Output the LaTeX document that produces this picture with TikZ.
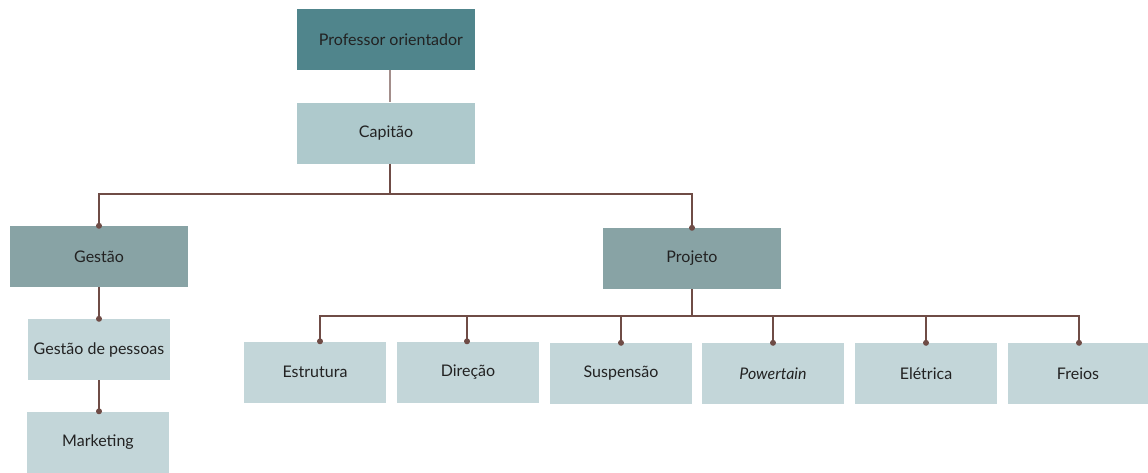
\documentclass[tikz,border=0pt]{standalone}
\usepackage{fontspec}
\setmainfont{Lato}
\usetikzlibrary{positioning}
\definecolor{cdark}{HTML}{50858C}
\definecolor{cmid}{HTML}{88A3A5}
\definecolor{clight}{HTML}{AEC9CC}
\definecolor{cpale}{HTML}{C3D6D9}
\definecolor{cline}{HTML}{6F4C46}
\definecolor{clinelt}{HTML}{A38E8B}
\definecolor{ctext}{HTML}{222222}
\begin{document}
\begin{tikzpicture}[x=1pt,y=-1pt,
  box/.style={rectangle, inner sep=0pt, text=ctext, font=\fontsize{16}{19}\selectfont},
  bigbox/.style={box, minimum width=178pt, minimum height=61pt},
  smallbox/.style={box, minimum width=142pt, minimum height=61pt, fill=cpale},
  conn/.style={draw=cline, line width=1.3pt},
  dotend/.style={fill=cline, circle, inner sep=0pt, minimum size=6pt}
]
\useasboundingbox (0,0) rectangle (1148,472);
\node[bigbox, fill=cdark] (prof) at (386,39.5) {\hspace*{10pt}Professor orientador};
\node[bigbox, fill=clight] (cap) at (386,133) {Capitão};
\node[bigbox, fill=cmid] (ges) at (99,256.5) {Gestão};
\node[bigbox, fill=cmid] (proj) at (692,258.5) {Projeto};
\node[smallbox] (gp) at (99,349.5) {Gestão de pessoas};
\node[smallbox] (mkt) at (98,442) {Marketing};
\node[smallbox] (est) at (315,372) {Estrutura};
\node[smallbox] (dir) at (468,372) {Direção};
\node[smallbox] (sus) at (621,373.5) {Suspensão};
\node[smallbox] (pow) at (773,373.5) {\itshape Powertain};
\node[smallbox] (ele) at (926,373.5) {Elétrica};
\node[smallbox, minimum width=140pt] (fre) at (1078,373.5) {Freios};

\draw[draw=clinelt, line width=1.3pt] ([xshift=4pt]prof.south) -- ([xshift=4pt]cap.north);
\coordinate (b1) at (390,194);
\draw[conn] ([xshift=4pt]cap.south) -- (b1);
\draw[conn] (b1) -| (ges.north);
\draw[conn] (b1) -| (proj.north);
\node[dotend] at (ges.north) {};
\node[dotend] at (proj.north) {};

\draw[conn] (ges.south) -- (gp.north);
\node[dotend] at (gp.north) {};
\draw[conn] ([xshift=1pt]mkt.north) -- ([xshift=0pt]gp.south);
\node[dotend] at ([xshift=1pt]mkt.north) {};

\coordinate (b2) at (692,316);
\draw[conn] (proj.south) -- (b2);
\foreach \n/\x in {est/320, dir/467, sus/621, pow/773, ele/926, fre/1079}{
  \draw[conn] (b2) -| (\x,340) -- (\n.north -| \x,0);
  \node[dotend] at (\n.north -| \x,0) {};
}
\end{tikzpicture}
\end{document}
